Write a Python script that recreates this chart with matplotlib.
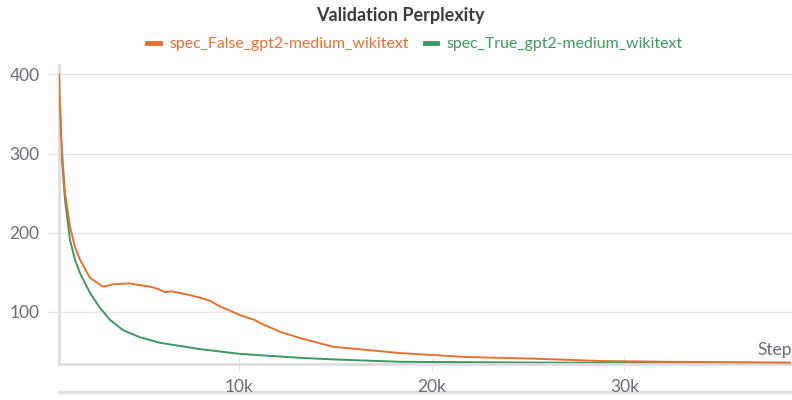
import matplotlib.pyplot as plt
from matplotlib.lines import Line2D
from matplotlib.ticker import FuncFormatter

# step values
false_steps = [660, 760, 970, 1230, 1490, 1750, 2270, 2940, 3500, 4340, 4800, 5380,
               5800, 6160, 6500, 6940, 7500, 7980, 8500, 9010, 9500, 10050, 10800, 11090,
               12130, 13170, 14880, 16630, 18350, 21810, 25260, 28740, 32220, 35700, 38600]
false_ppl = [400, 322, 251, 208, 182, 166, 143, 132, 135, 136, 134, 132,
             129, 125, 126, 124, 121, 118, 114, 107, 102, 96, 90, 86,
             75, 67, 56, 52, 48, 43, 41, 38, 37, 36.5, 36]

true_steps = [660, 815, 970, 1230, 1490, 1750, 2270, 2790, 3310, 3980, 4860, 5900,
              7980, 10050, 13170, 14880, 18350, 25260, 32000, 38600]
true_ppl = [400, 292, 242, 191, 166, 149, 124, 105, 90, 77, 68, 61,
            53, 47, 42, 40, 37, 36, 35.5, 35]

orange = '#e8702f'
green = '#3b9a5e'
grey_txt = '#6b6b76'
grey_line = '#e6e6e9'

plt.rcParams['font.family'] = ['Lato', 'DejaVu Sans']

fig = plt.figure(figsize=(7.92, 4.0), dpi=100)
ax = fig.add_axes([0.0745, 0.09, 0.9255, 0.7475])

ax.plot(false_steps, false_ppl, color=orange, lw=1.4, label='spec_False_gpt2-medium_wikitext', zorder=3)
ax.plot(true_steps, true_ppl, color=green, lw=1.4, label='spec_True_gpt2-medium_wikitext', zorder=2)

ax.set_xlim(660, 38700)
ax.set_ylim(34.2, 412)
ax.set_yticks([100, 200, 300, 400])
ax.set_xticks([10000, 20000, 30000])
ax.xaxis.set_major_formatter(FuncFormatter(lambda v, p: f'{int(v / 1000)}k'))

ax.grid(axis='y', color=grey_line, lw=1)
ax.set_axisbelow(True)
for s in ['top', 'right']:
    ax.spines[s].set_visible(False)
for s in ['left', 'bottom']:
    ax.spines[s].set_color('#dcdce0')
    ax.spines[s].set_linewidth(2)
ax.tick_params(axis='y', colors=grey_txt, labelsize=12.5, length=8, width=1, color=grey_line, pad=6)
ax.tick_params(axis='x', colors=grey_txt, labelsize=12.5, length=10, width=1, color=grey_line, pad=6,
               direction='inout')

ax.text(1.0, 0.02, 'Step', transform=ax.transAxes, ha='right', va='bottom', fontsize=12.5, color=grey_txt)

fig.add_artist(Line2D([0.0745, 1.0], [0.02, 0.02], color='#e3e3e6', lw=2.5, zorder=0))

fig.text(0.505, 0.96, 'Validation Perplexity', ha='center', va='center', fontsize=13,
         fontweight='bold', color='#3b3b3e')
leg = fig.legend(loc='center', bbox_to_anchor=(0.524, 0.89), ncol=2, frameon=False, fontsize=11.4,
                 handlelength=0.8, handletextpad=0.6, columnspacing=1.0)
for line, txt in zip(leg.get_lines(), leg.get_texts()):
    line.set_linewidth(3.5)
    txt.set_color(line.get_color())

fig.savefig('out.png', dpi=100)
